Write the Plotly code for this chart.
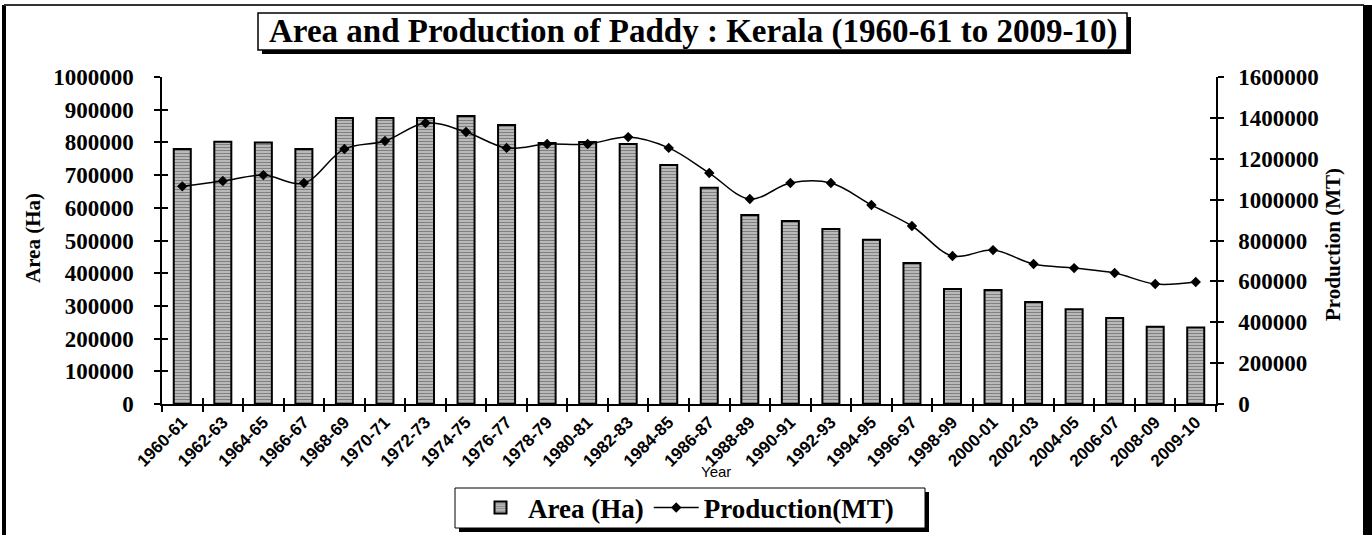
import plotly.graph_objects as go

years = ["1960-61", "1962-63", "1964-65", "1966-67", "1968-69", "1970-71", "1972-73",
         "1974-75", "1976-77", "1978-79", "1980-81", "1982-83", "1984-85", "1986-87",
         "1988-89", "1990-91", "1992-93", "1994-95", "1996-97", "1998-99", "2000-01",
         "2002-03", "2004-05", "2006-07", "2008-09", "2009-10"]
area_ha = [780000, 802000, 800000, 780000, 875000, 875000, 875000, 881000, 853000,
           798000, 801000, 795000, 731000, 661000, 578000, 560000, 535000, 502000,
           431000, 352000, 349000, 312000, 290000, 263000, 236000, 234000]
production_mt = [1065000, 1091000, 1120000, 1081000, 1248000, 1287000, 1375000, 1331000,
                 1253000, 1272000, 1272000, 1306000, 1253000, 1130000, 1003000, 1081000,
                 1081000, 974000, 871000, 724000, 753000, 685000, 665000, 641000, 587000,
                 597000]
area_ticks = list(range(0, 1000001, 100000))
prod_ticks = list(range(0, 1600001, 200000))

W, H = 1372, 535
L, T = 162, 77
R = W - 1216
B = H - 404
PW, PH = W - L - R, H - T - B


def fx(px):
    return (px - L) / PW


def fy(py):
    return (H - B - py) / PH


SERIF = "Liberation Serif"
SANS = "Liberation Sans"

fig = go.Figure()
fig.add_trace(go.Bar(
    x=years, y=area_ha, name="Area (Ha)", width=0.42,
    marker=dict(color="#333333", line=dict(color="black", width=2),
                pattern=dict(shape="-", fgcolor="#333333", bgcolor="#cccccc",
                             size=3, solidity=0.5)),
))
fig.add_trace(go.Scatter(
    x=years, y=production_mt, name="Production(MT)", yaxis="y2",
    mode="lines+markers", line=dict(color="black", width=1.5, shape="spline", smoothing=1),
    marker=dict(symbol="diamond", size=8, color="black"),
))
# invisible helpers so the crossing tick marks get drawn
fig.add_trace(go.Scatter(x=years, y=area_ha, xaxis="x2", yaxis="y3", mode="markers",
                         marker=dict(opacity=0), showlegend=False, hoverinfo="skip"))
fig.add_trace(go.Scatter(x=years, y=production_mt, xaxis="x2", yaxis="y4", mode="markers",
                         marker=dict(opacity=0), showlegend=False, hoverinfo="skip"))

tickfont_y = dict(family=SERIF, size=23, color="black", weight="bold")
fig.update_layout(
    width=W, height=H, margin=dict(l=L, r=R, t=T, b=B, autoexpand=False),
    paper_bgcolor="white", plot_bgcolor="white",
    xaxis=dict(type="category", categoryarray=years, range=[-0.5, 25.5], automargin=False,
               showline=True, linecolor="black", linewidth=1.5,
               ticks="outside", ticklen=6, tickwidth=1.5, tickcolor="black",
               tickson="boundaries", tickangle=-45, showgrid=False,
               tickfont=dict(family=SANS, size=17, color="black", weight="bold")),
    xaxis2=dict(type="category", categoryarray=years, range=[-0.5, 25.5], automargin=False,
                overlaying="x", anchor="y3", showline=False, showgrid=False,
                ticks="inside", ticklen=6, tickwidth=1.5, tickcolor="black",
                tickson="boundaries", showticklabels=False),
    yaxis=dict(range=[0, 1000000], tickvals=area_ticks, tickformat="d", automargin=False,
               showline=True, linecolor="black", linewidth=1.5,
               ticks="outside", ticklen=6, tickwidth=1.5, tickcolor="black",
               ticklabelstandoff=16, showgrid=False, zeroline=False,
               tickfont=tickfont_y),
    yaxis2=dict(range=[0, 1600000], tickvals=prod_ticks, tickformat="d", automargin=False,
                overlaying="y", side="right", anchor="x",
                showline=True, linecolor="black", linewidth=1.5,
                ticks="outside", ticklen=6, tickwidth=1.5, tickcolor="black",
                ticklabelstandoff=10, showgrid=False, zeroline=False,
                tickfont=tickfont_y),
    yaxis3=dict(range=[0, 1000000], tickvals=area_ticks, overlaying="y", side="left",
                anchor="x2", showline=False, showgrid=False, zeroline=False, automargin=False,
                ticks="inside", ticklen=6, tickwidth=1.5, tickcolor="black",
                showticklabels=False),
    yaxis4=dict(range=[0, 1600000], tickvals=prod_ticks, overlaying="y", side="right",
                anchor="x2", showline=False, showgrid=False, zeroline=False, automargin=False,
                ticks="inside", ticklen=6, tickwidth=1.5, tickcolor="black",
                showticklabels=False),
    showlegend=True,
    legend=dict(orientation="h", xref="container", yref="container",
                x=686 / W, y=(H - 508) / H, xanchor="center", yanchor="middle",
                bgcolor="rgba(0,0,0,0)", borderwidth=0,
                font=dict(family=SERIF, size=27, color="black", weight="bold"),
                itemwidth=45, tracegroupgap=0),
)

shapes = [
    # outer frame
    dict(type="line", x0=fx(4), x1=fx(4), y0=fy(5), y1=fy(545), line=dict(color="black", width=4)),
    dict(type="line", x0=fx(4), x1=fx(1364), y0=fy(5), y1=fy(5), line=dict(color="#333", width=2)),
    dict(type="rect", x0=fx(1363), x1=fx(1372), y0=fy(5), y1=fy(545), fillcolor="black",
         line=dict(width=0)),
    # title box with shadow
    dict(type="rect", x0=fx(262), x1=fx(1131), y0=fy(17), y1=fy(54), fillcolor="black",
         line=dict(width=0)),
    dict(type="rect", x0=fx(258), x1=fx(1127), y0=fy(13), y1=fy(50), fillcolor="white",
         line=dict(color="black", width=1.5)),
    # legend box with shadow
    dict(type="rect", x0=fx(459), x1=fx(929), y0=fy(492), y1=fy(532), fillcolor="black",
         line=dict(width=0)),
    dict(type="rect", x0=fx(455), x1=fx(925), y0=fy(488), y1=fy(528), fillcolor="white",
         line=dict(color="black", width=1)),
]
for s in shapes:
    s.update(xref="paper", yref="paper", layer="above")
fig.update_layout(shapes=shapes)

annotations = [
    dict(text="<b>Area and Production of Paddy : Kerala (1960-61 to 2009-10)</b>",
         x=fx(693), y=fy(32), font=dict(family=SERIF, size=33, color="black")),
    dict(text="<b>Area (Ha)</b>", x=fx(33), y=fy(238), textangle=-90,
         font=dict(family=SERIF, size=21, color="black")),
    dict(text="<b>Production (MT)</b>", x=fx(1333), y=fy(245), textangle=-90,
         font=dict(family=SERIF, size=21, color="black")),
    dict(text="Year", x=fx(716), y=fy(471),
         font=dict(family=SANS, size=15, color="black")),
]
for a in annotations:
    a.update(xref="paper", yref="paper", showarrow=False, xanchor="center", yanchor="middle")
fig.update_layout(annotations=annotations)

fig.write_html(
    "out.html",
    config={"displayModeBar": False},
    post_script="document.body.style.margin='0';document.body.style.overflow='hidden';",
)
